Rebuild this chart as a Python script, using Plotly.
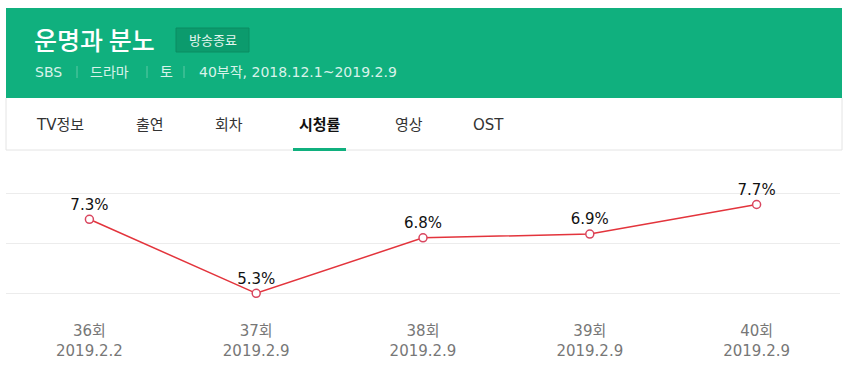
import plotly.graph_objects as go

# ---- data ----
episodes = ["36회", "37회", "38회", "39회", "40회"]
air_dates = ["2019.2.2", "2019.2.9", "2019.2.9", "2019.2.9", "2019.2.9"]
ratings = [7.3, 5.3, 6.8, 6.9, 7.7]

title_text = "운명과 분노"
badge_text = "방송종료"
subtitle_parts = ["SBS", "드라마", "토", "40부작, 2018.12.1~2019.2.9"]
tabs = ["TV정보", "출연", "회차", "시청률", "영상", "OST"]
active_tab = "시청률"

# ---- layout geometry (pixels) ----
W, H = 852, 379
ML, MR, MT, MB = 6, 12, 160, 79
PL, PR, PT, PB = ML, W - MR, MT, H - MB


def px(x):
    return (x - PL) / (PR - PL)


def py(y):
    return (PB - y) / (PB - PT)


GREEN = "#10b07e"
KFONT = "Noto Sans CJK KR"
MIXFONT = "DejaVu Sans, Noto Sans CJK KR"

fig = go.Figure()
fig.add_trace(go.Scatter(
    x=list(range(len(ratings))),
    y=ratings,
    mode="lines+markers+text",
    text=[f"{v}%" for v in ratings],
    textposition="top center",
    textfont=dict(family="DejaVu Sans", size=15, color="#111111"),
    line=dict(color="#e3343c", width=1.5),
    marker=dict(size=8, color="white", line=dict(color="#d9465f", width=1.5)),
    cliponaxis=False,
    hoverinfo="skip",
))

shapes = []
annotations = []

# header green block
shapes.append(dict(type="rect", xref="paper", yref="paper",
                   x0=px(6), x1=px(842), y0=py(98), y1=py(8),
                   fillcolor=GREEN, line=dict(width=0), layer="above"))
# badge
shapes.append(dict(type="rect", xref="paper", yref="paper",
                   x0=px(176), x1=px(249), y0=py(52), y1=py(28),
                   fillcolor="#0c9b6d", line=dict(color="#0a8c62", width=1), layer="above"))
# tab bar borders
shapes.append(dict(type="line", xref="paper", yref="paper",
                   x0=px(6), x1=px(6), y0=py(150), y1=py(98),
                   line=dict(color="#e4e4e4", width=1)))
shapes.append(dict(type="line", xref="paper", yref="paper",
                   x0=px(842), x1=px(842), y0=py(150), y1=py(98),
                   line=dict(color="#e4e4e4", width=1)))
shapes.append(dict(type="line", xref="paper", yref="paper",
                   x0=px(6), x1=px(842), y0=py(150), y1=py(150),
                   line=dict(color="#e4e4e4", width=1)))
# active tab underline
shapes.append(dict(type="rect", xref="paper", yref="paper",
                   x0=px(293), x1=px(346), y0=py(151), y1=py(148),
                   fillcolor=GREEN, line=dict(width=0)))

# title
annotations.append(dict(text=title_text, xref="paper", yref="paper",
                        x=px(32), y=py(39), xanchor="left", yanchor="middle",
                        showarrow=False,
                        font=dict(family=KFONT, size=25, color="white", weight=500)))
annotations.append(dict(text=badge_text, xref="paper", yref="paper",
                        x=px(212.5), y=py(40), xanchor="center", yanchor="middle",
                        showarrow=False,
                        font=dict(family=KFONT, size=13, color="#e6f7f0")))
# subtitle segments
sub_x = [33, 88, 158, 197]
sep_x = [77, 147, 184]
for t, x in zip(subtitle_parts, sub_x):
    annotations.append(dict(text=t, xref="paper", yref="paper",
                            x=px(x), y=py(72), xanchor="left", yanchor="middle",
                            showarrow=False,
                            font=dict(family=MIXFONT, size=14, color="#d8f3ea")))
for x in sep_x:
    shapes.append(dict(type="line", xref="paper", yref="paper",
                       x0=px(x), x1=px(x), y0=py(78), y1=py(66),
                       line=dict(color="#5cc9a5", width=1)))

# tabs
tab_cx = [60, 150, 228.5, 319.5, 409, 489]
for t, cx in zip(tabs, tab_cx):
    bold = t == active_tab
    annotations.append(dict(text=f"<b>{t}</b>" if bold else t,
                            xref="paper", yref="paper",
                            x=px(cx), y=py(125), xanchor="center", yanchor="middle",
                            showarrow=False,
                            font=dict(family=MIXFONT, size=15,
                                      color="#111111" if bold else "#333333")))

fig.update_layout(
    width=W, height=H,
    margin=dict(l=ML, r=MR, t=MT, b=MB, pad=0),
    paper_bgcolor="white", plot_bgcolor="white",
    showlegend=False,
    shapes=shapes,
    annotations=annotations,
    xaxis=dict(
        range=[-0.5, len(ratings) - 0.5],
        tickmode="array",
        tickvals=list(range(len(ratings))),
        ticktext=[f"{e}<br>{d}" for e, d in zip(episodes, air_dates)],
        tickfont=dict(family=MIXFONT, size=15, color="#777777"),
        ticklabelstandoff=20,
        showgrid=False, zeroline=False, showline=False, ticks="",
        fixedrange=True,
    ),
    yaxis=dict(
        range=[5.3 - (PB - 293.3) / 37, 5.3 + (293.3 - PT) / 37],
        tick0=5.3, dtick=1.35,
        showticklabels=False,
        showgrid=True, gridcolor="#ececec", gridwidth=1,
        zeroline=False, showline=False, ticks="",
        fixedrange=True,
    ),
)

fig.write_html("out.html", config={"displayModeBar": False},
               post_script="document.body.style.margin='0';")
